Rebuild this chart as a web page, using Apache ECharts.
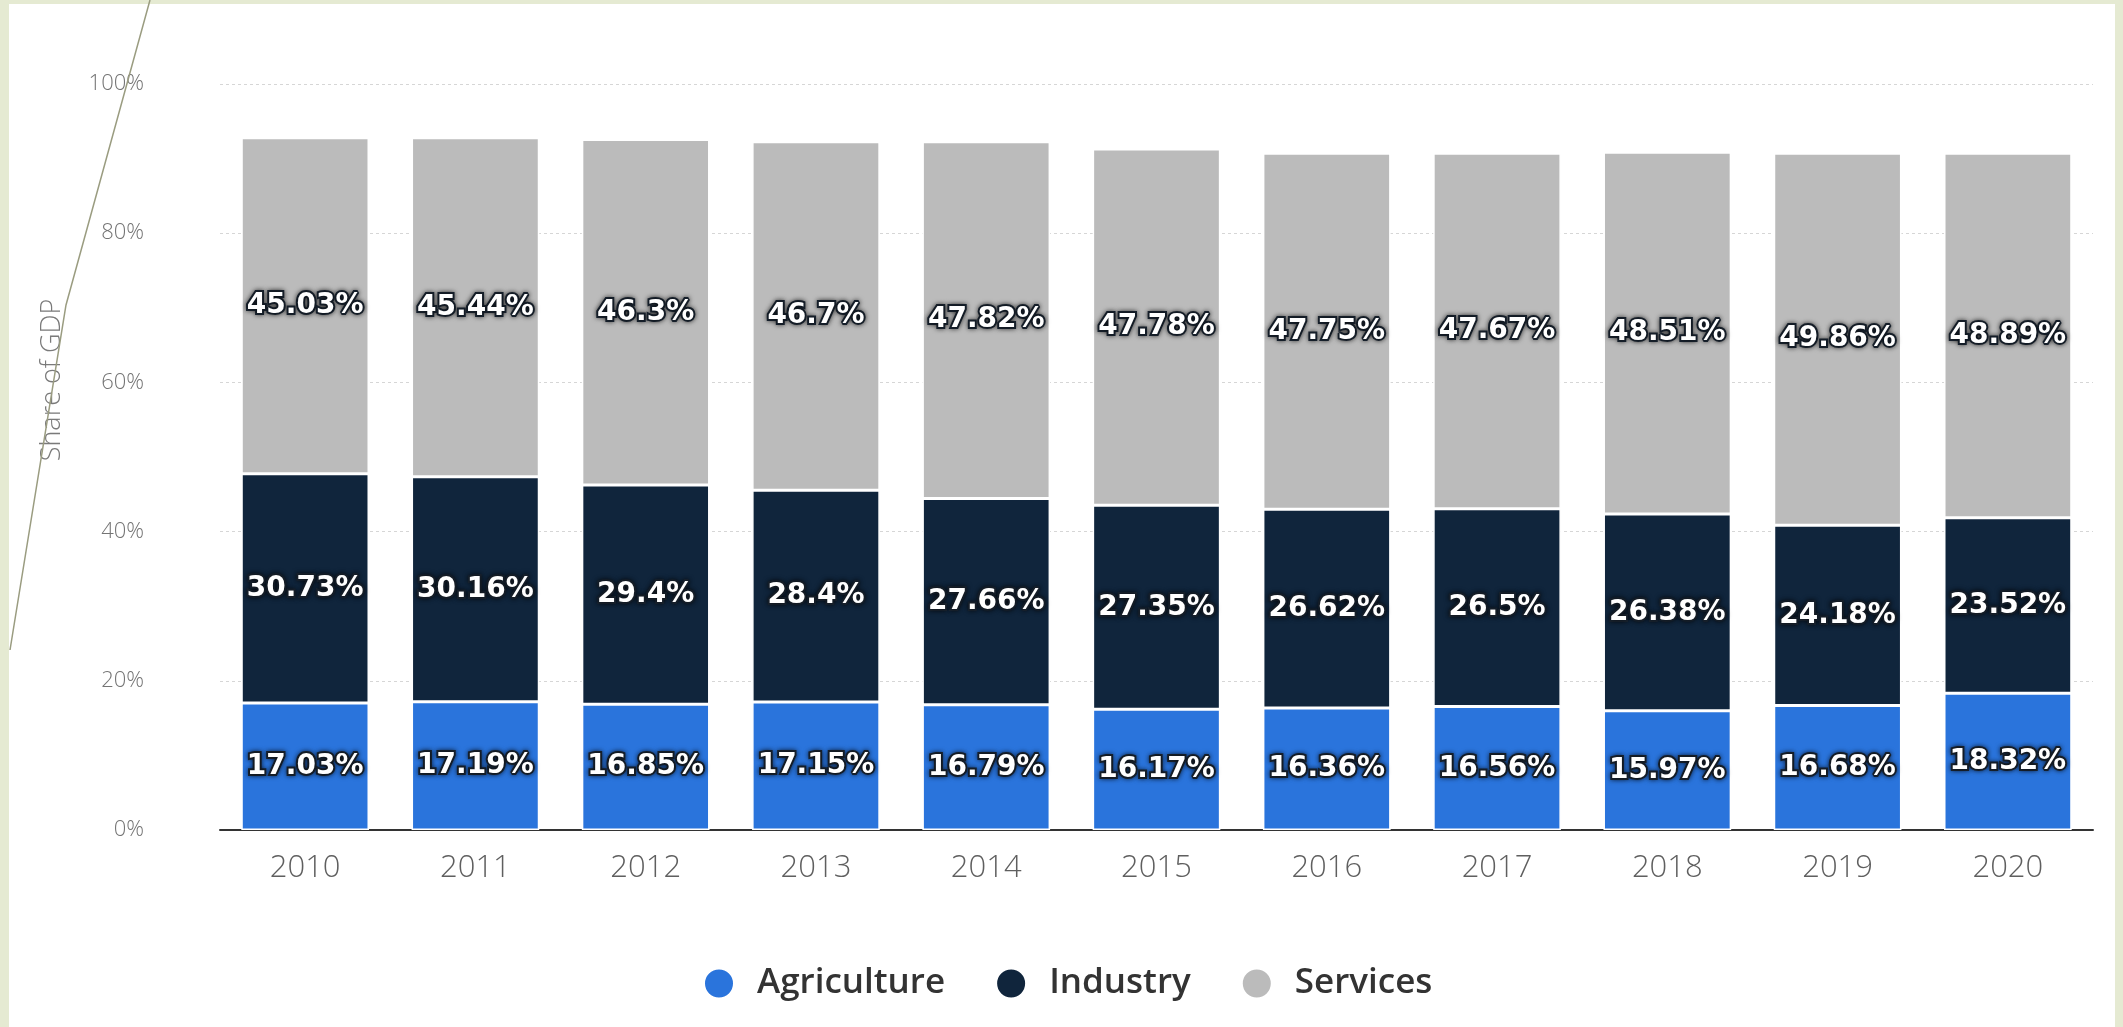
<!DOCTYPE html>
<html>
<head>
<meta charset="utf-8">
<title>Share of GDP by sector</title>
<script src="https://cdn.jsdelivr.net/npm/echarts@6/dist/echarts.min.js"></script>
<style>
  html, body { margin: 0; padding: 0; background: #e5ead2; }
  #chart { width: 2123px; height: 1027px; }
</style>
</head>
<body>
<div id="chart"></div>
<script>
// Sector shares of GDP, 2010-2020 (percent)
var years = ['2010', '2011', '2012', '2013', '2014', '2015', '2016', '2017', '2018', '2019', '2020'];
var agriculture = [17.03, 17.19, 16.85, 17.15, 16.79, 16.17, 16.36, 16.56, 15.97, 16.68, 18.32];
var industry = [30.73, 30.16, 29.4, 28.4, 27.66, 27.35, 26.62, 26.5, 26.38, 24.18, 23.52];
var services = [45.03, 45.44, 46.3, 46.7, 47.82, 47.78, 47.75, 47.67, 48.51, 49.86, 48.89];
var seriesNames = ['Agriculture', 'Industry', 'Services'];
var seriesColors = ['#2a74dc', '#10253c', '#bbbbbb'];

var chart = echarts.init(document.getElementById('chart'), null, { renderer: 'canvas' });

var valueLabel = {
  show: true,
  position: 'inside',
  formatter: function (p) { return p.value + '%'; },
  color: '#ffffff',
  fontFamily: 'DejaVu Sans',
  fontWeight: 'bold',
  fontSize: 28,
  textBorderColor: '#18222e',
  textBorderWidth: 4,
  textShadowColor: 'rgba(0,0,0,0.6)',
  textShadowBlur: 5
};

function barSeries(name, data, color) {
  return {
    name: name,
    type: 'bar',
    stack: 'gdp',
    data: data,
    barCategoryGap: '25%',
    itemStyle: { color: color, borderColor: '#ffffff', borderWidth: 1.5 },
    label: valueLabel,
    emphasis: { disabled: true }
  };
}

chart.setOption({
  backgroundColor: '#e5ead2',
  animation: false,
  graphic: [
    {
      type: 'rect',
      z: -10,
      silent: true,
      shape: { x: 9, y: 4, width: 2106, height: 1030 },
      style: { fill: '#ffffff' }
    },
    {
      type: 'polyline',
      z: 100,
      silent: true,
      shape: { points: [[150, 0], [66, 305], [10, 650]] },
      style: { stroke: '#9a9c80', lineWidth: 1.5, fill: null }
    },
    {
      type: 'text',
      x: 52,
      y: 380,
      rotation: Math.PI / 2,
      silent: true,
      style: {
        text: 'Share of GDP',
        fill: '#7a7a7a',
        font: '300 27px "Open Sans"',
        textAlign: 'center',
        textVerticalAlign: 'middle'
      }
    }
  ],
  grid: { left: 220, right: 30, top: 84, bottom: 197 },
  legend: {
    data: seriesNames,
    left: 698,
    top: 961,
    icon: 'circle',
    itemWidth: 30,
    itemHeight: 30,
    itemGap: 50,
    selectedMode: false,
    textStyle: {
      fontFamily: 'Open Sans',
      fontWeight: 600,
      fontSize: 35,
      color: '#333333',
      padding: [0, 0, 0, 18]
    }
  },
  xAxis: {
    type: 'category',
    data: years,
    axisTick: { show: false },
    axisLine: { lineStyle: { color: '#333333', width: 2 } },
    axisLabel: {
      margin: 23,
      color: '#5f5f5f',
      fontFamily: 'Open Sans',
      fontWeight: 300,
      fontSize: 31
    }
  },
  yAxis: {
    type: 'value',
    min: 0,
    max: 100,
    interval: 20,
    axisLine: { show: false },
    axisTick: { show: false },
    axisLabel: {
      formatter: '{value}%',
      margin: 76,
      color: '#747474',
      fontFamily: 'Open Sans',
      fontWeight: 300,
      fontSize: 22
    },
    splitLine: { lineStyle: { color: '#d6d6d6', type: [3, 3], width: 1 } }
  },
  series: [
    barSeries(seriesNames[0], agriculture, seriesColors[0]),
    barSeries(seriesNames[1], industry, seriesColors[1]),
    barSeries(seriesNames[2], services, seriesColors[2])
  ]
});
</script>
</body>
</html>
